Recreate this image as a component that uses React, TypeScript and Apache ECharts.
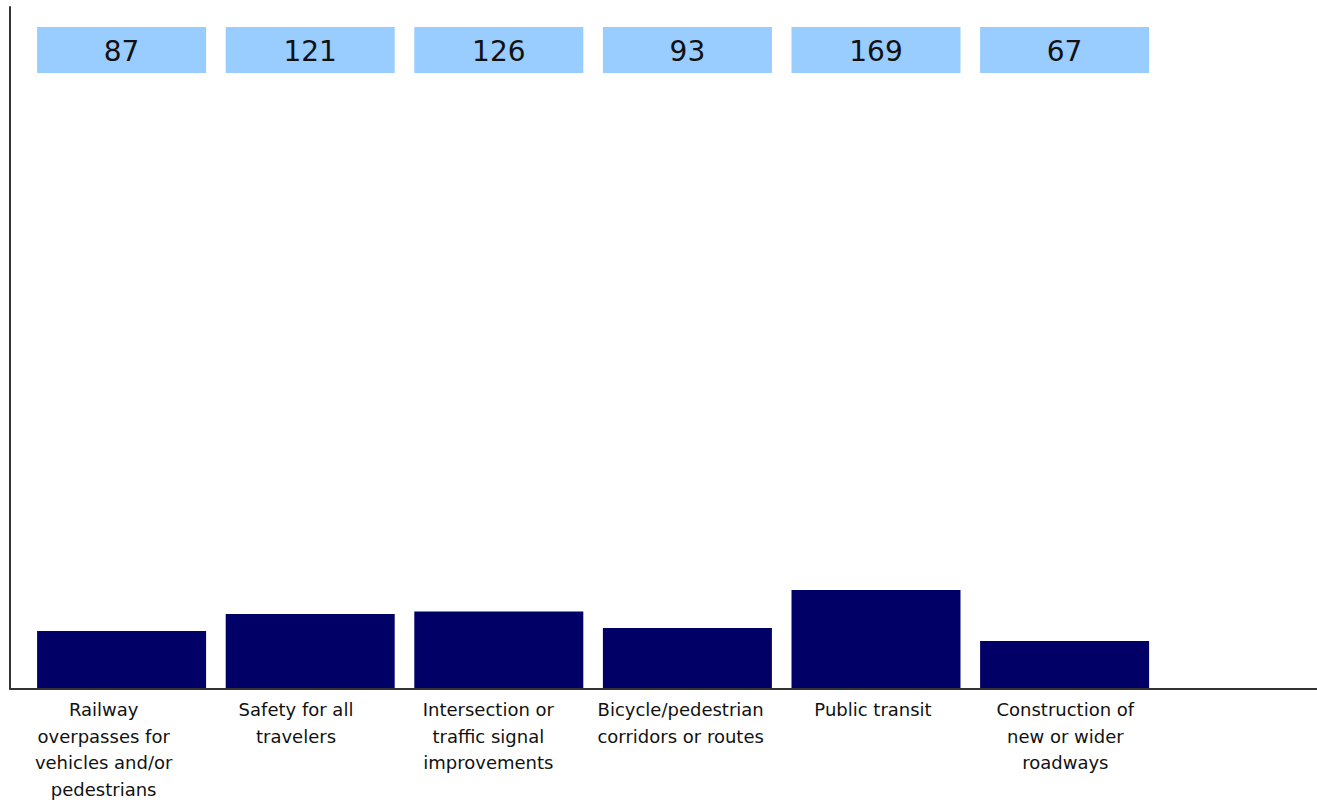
import React, { useEffect, useRef } from "react";
import * as echarts from "echarts";

const categories = [
  "Railway\noverpasses for\nvehicles and/or\npedestrians",
  "Safety for all\ntravelers",
  "Intersection or\ntraffic signal\nimprovements",
  "Bicycle/pedestrian\ncorridors or routes",
  "Public transit",
  "Construction of\nnew or wider\nroadways",
];
const values = [87, 121, 126, 93, 169, 67];

const FONT = "DejaVu Sans";

export default function App() {
  const ref = useRef<HTMLDivElement>(null);
  useEffect(() => {
    if (!ref.current) return;
    const chart = echarts.init(ref.current, null, { renderer: "svg" });
    chart.setOption({
      animation: false,
      backgroundColor: "#ffffff",
      grid: [
        { left: 10, right: 0, top: 7, bottom: 114.5 },
        { left: 27.3, width: 1131.6, top: 7, bottom: 115 },
        { left: 7.5, width: 1154, top: 7, bottom: 115 },
      ],
      xAxis: [
        {
          gridIndex: 0,
          type: "value",
          min: 0,
          max: 1,
          axisLine: { show: true, lineStyle: { color: "#333", width: 2 } },
          axisTick: { show: false },
          axisLabel: { show: false },
          splitLine: { show: false },
        },
        {
          gridIndex: 1,
          type: "category",
          data: categories,
          axisLine: { show: false },
          axisTick: { show: false },
          axisLabel: { show: false },
        },
        {
          gridIndex: 2,
          type: "category",
          data: categories,
          axisLine: { show: false },
          axisTick: { show: false },
          axisLabel: {
            show: true,
            interval: 0,
            margin: 12,
            fontFamily: FONT,
            fontSize: 18,
            lineHeight: 26.7,
            color: "#111",
          },
        },
      ],
      yAxis: [
        {
          gridIndex: 0,
          type: "value",
          min: 0,
          max: 1,
          axisLine: { show: true, lineStyle: { color: "#333", width: 2 } },
          axisTick: { show: false },
          axisLabel: { show: false },
          splitLine: { show: false },
        },
        {
          gridIndex: 1,
          type: "value",
          min: -27,
          max: 1335,
          show: false,
          splitLine: { show: false },
        },
        {
          gridIndex: 2,
          type: "value",
          show: false,
          splitLine: { show: false },
        },
      ],
      series: [
        {
          type: "custom",
          xAxisIndex: 1,
          yAxisIndex: 1,
          data: values.map((v, i) => [i, v]),
          encode: { x: 0, y: 1 },
          renderItem: (params: any, api: any) => {
            const pt = api.coord([api.value(0), api.value(1)]);
            const bottom = api.coord([api.value(0), -27])[1];
            const w = 169;
            return {
              type: "group",
              children: [
                {
                  type: "rect",
                  shape: { x: pt[0] - w / 2, y: pt[1], width: w, height: bottom - pt[1] },
                  style: { fill: "#000066" },
                },
                {
                  type: "rect",
                  shape: { x: pt[0] - w / 2, y: 27, width: w, height: 46 },
                  style: { fill: "#99ccff" },
                },
                {
                  type: "text",
                  style: {
                    text: String(api.value(1)),
                    x: pt[0],
                    y: 51,
                    align: "center",
                    verticalAlign: "middle",
                    fontFamily: FONT,
                    fontSize: 28,
                    fill: "#111",
                  },
                },
              ],
            };
          },
        },
      ],
    });
    return () => chart.dispose();
  }, []);
  return (
    <div
      ref={ref}
      style={{ position: "fixed", left: 0, top: 0, width: 1317, height: 803 }}
    />
  );
}
